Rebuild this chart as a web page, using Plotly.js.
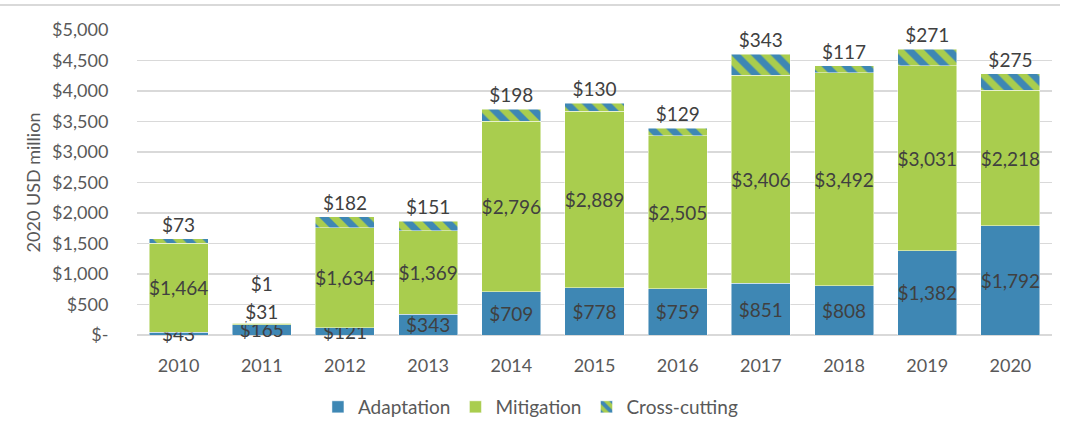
<!DOCTYPE html>
<html>
<head>
<meta charset="utf-8">
<script src="https://cdn.plot.ly/plotly-3.0.1.min.js"></script>
<style>html,body{margin:0;padding:0;background:#fff;}#chart{width:1069px;height:437px;}</style>
</head>
<body>
<div id="chart"></div>
<script>
var years = ['2010','2011','2012','2013','2014','2015','2016','2017','2018','2019','2020'];
var adaptation = [43, 165, 121, 343, 709, 778, 759, 851, 808, 1382, 1792];
var mitigation = [1464, 31, 1634, 1369, 2796, 2889, 2505, 3406, 3492, 3031, 2218];
var crossCutting = [73, 1, 182, 151, 198, 130, 129, 343, 117, 271, 275];
var yTickVals = [0, 500, 1000, 1500, 2000, 2500, 3000, 3500, 4000, 4500, 5000];
var yTickText = ['$-', '$500', '$1,000', '$1,500', '$2,000', '$2,500', '$3,000', '$3,500', '$4,000', '$4,500', '$5,000'];

function money(v){ return '$' + v.toLocaleString('en-US'); }

var blue = '#3e87b4';
var green = '#a9cd4e';
var txt = '#404040';
var fontFam = 'Lato, "Open Sans", sans-serif';
var lblFont = {color:txt, size:19, family:fontFam};

// 2011 segments are too thin for their labels: lift those labels with a blank trailing line
var mitText = mitigation.map(function(v, i){ return i === 1 ? money(v) + '<br> ' : money(v); });
var crossText = crossCutting.map(function(v, i){ return i === 1 ? money(v) + '<br> ' : money(v); });

var traces = [
  {type:'bar', name:'Adaptation', x:years, y:adaptation, cliponaxis:false,
   marker:{color:blue, line:{color:'rgba(255,255,255,0.6)', width:0.8}},
   text:adaptation.map(money), textposition:'inside', insidetextanchor:'middle', constraintext:'none', textangle:0,
   textfont:lblFont, insidetextfont:lblFont, hoverinfo:'skip'},
  {type:'bar', name:'Mitigation', x:years, y:mitigation, cliponaxis:false,
   marker:{color:green, line:{color:'rgba(255,255,255,0.6)', width:0.8}},
   text:mitText, textposition:'inside', insidetextanchor:'middle', constraintext:'none', textangle:0,
   textfont:lblFont, insidetextfont:lblFont, hoverinfo:'skip'},
  {type:'bar', name:'Cross-cutting', x:years, y:crossCutting, cliponaxis:false,
   marker:{color:green, line:{color:'rgba(255,255,255,0.6)', width:0.8},
           pattern:{shape:'\\', fgcolor:blue, bgcolor:green, fgopacity:1, size:14, solidity:0.5, fillmode:'replace'}},
   text:crossText, textposition:'outside', constraintext:'none', textangle:0,
   textfont:lblFont, outsidetextfont:lblFont, hoverinfo:'skip'}
];

var layout = {
  width:1069, height:437,
  margin:{l:137, r:17, t:30, b:101},
  barmode:'stack', bargap:0.29,
  paper_bgcolor:'#fff', plot_bgcolor:'#fff',
  font:{family:fontFam, color:'#595959', size:18},
  showlegend:true,
  legend:{orientation:'h', x:0.43, xanchor:'center', y:-0.232, yanchor:'middle',
          font:{size:19, color:'#595959'}, traceorder:'normal'},
  xaxis:{type:'category', showgrid:false, showline:false, zeroline:false,
         ticks:'outside', ticklen:14, tickcolor:'rgba(0,0,0,0)',
         tickfont:{size:18, color:'#595959'}},
  yaxis:{range:[0,5000], tickvals:yTickVals, ticktext:yTickText,
         showgrid:true, gridcolor:'#d9d9d9', gridwidth:1.5, zeroline:true, zerolinecolor:'#d9d9d9', zerolinewidth:1.5,
         showline:false, ticks:'outside', ticklen:24, tickcolor:'rgba(0,0,0,0)',
         tickfont:{size:18, color:'#595959'},
         title:{text:'2020 USD million', font:{size:18, color:'#595959'}, standoff:6}},
  shapes:[{type:'line', xref:'paper', yref:'paper', x0:-137/915, x1:(1060-137)/915, y0:331/306, y1:331/306,
           line:{color:'#d9d9d9', width:2}}]
};

Plotly.newPlot('chart', traces, layout, {displayModeBar:false, staticPlot:true});
</script>
</body>
</html>
